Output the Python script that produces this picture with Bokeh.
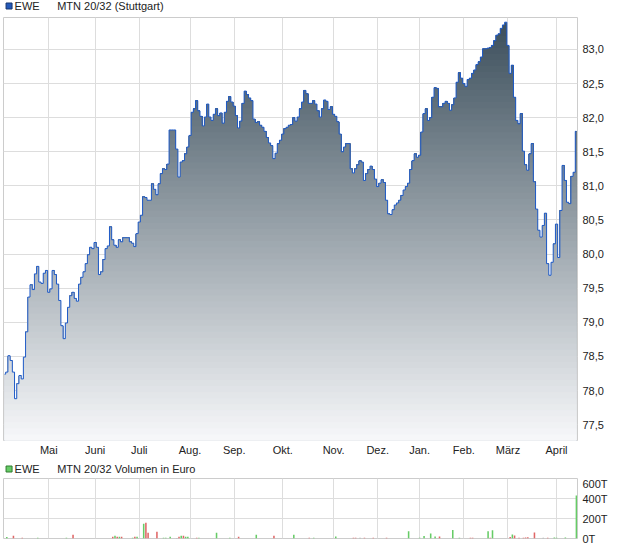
import numpy as np
from bokeh.plotting import figure
from bokeh.models import Range1d, FixedTicker
from bokeh.core.properties import value
from bokeh.layouts import column
from bokeh.embed import file_html
from bokeh.resources import INLINE

# ---------------- data ----------------
price = [
    78.24, 78.27, 78.51, 78.44, 78.27, 77.88, 78.10, 78.22, 78.17, 78.49,
    78.86, 79.37, 79.55, 79.48, 79.71, 79.82, 79.59, 79.57, 79.72, 79.76,
    79.44, 79.49, 79.76, 79.70, 79.56, 79.32, 78.95, 78.76, 78.99, 79.22,
    79.39, 79.44, 79.35, 79.31, 79.56, 79.66, 79.74, 79.86, 79.99, 80.10,
    80.08, 80.17, 80.10, 79.70, 79.74, 79.92, 80.08, 80.12, 80.40, 80.21,
    80.13, 80.10, 80.21, 80.18, 80.24, 80.24, 80.24, 80.18, 80.16, 80.11,
    80.30, 80.47, 80.57, 80.84, 80.83, 80.79, 80.79, 81.03, 80.95, 80.87,
    81.03, 81.18, 81.25, 81.24, 81.32, 81.82, 81.82, 81.82, 81.54, 81.13,
    81.35, 81.37, 81.47, 81.57, 81.74, 82.08, 82.13, 82.25, 82.10, 82.02,
    81.88, 82.01, 82.20, 82.01, 81.96, 82.05, 82.13, 82.03, 82.07, 81.92,
    82.08, 82.24, 82.31, 82.23, 82.17, 82.03, 81.85, 81.95, 82.21, 82.39,
    82.34, 82.29, 82.25, 81.98, 81.93, 81.94, 81.89, 81.86, 81.80, 81.71,
    81.63, 81.59, 81.40, 81.48, 81.62, 81.67, 81.76, 81.84, 81.86, 81.89,
    81.90, 82.00, 81.95, 82.01, 82.13, 82.23, 82.40, 82.35, 82.21, 82.21,
    82.25, 82.20, 82.10, 82.01, 82.13, 82.26, 82.24, 82.12, 82.16, 82.05,
    82.02, 81.94, 81.76, 81.50, 81.57, 81.62, 81.62, 81.25, 81.19, 81.25,
    81.31, 81.37, 81.35, 81.08, 81.18, 81.24, 81.29, 81.24, 81.10, 80.99,
    81.04, 81.09, 81.05, 80.79, 80.59, 80.58, 80.65, 80.72, 80.75, 80.79,
    80.86, 80.94, 80.99, 81.04, 81.24, 81.37, 81.47, 81.42, 81.45, 81.79,
    82.06, 82.13, 81.96, 82.00, 82.30, 82.44, 82.43, 82.16, 82.16, 82.21,
    82.24, 82.21, 82.11, 82.19, 82.29, 82.52, 82.66, 82.58, 82.50, 82.46,
    82.56, 82.58, 82.65, 82.70, 82.78, 82.82, 82.89, 83.01, 83.01, 83.02,
    83.03, 83.06, 83.13, 83.21, 83.23, 83.31, 83.36, 83.40, 83.06, 82.65,
    82.77, 82.30, 81.96, 81.91, 82.06, 81.51, 81.31, 81.23, 81.47, 81.62,
    81.06, 80.66, 80.35, 80.25, 80.42, 80.60, 79.86, 79.69, 79.88, 80.15,
    80.44, 79.95, 80.64, 81.30, 81.08, 80.76, 80.74, 81.14, 81.20, 81.80,
]

month_labels = ["Mai", "Juni", "Juli", "Aug.", "Sep.", "Okt.", "Nov.",
                "Dez.", "Jan.", "Feb.", "März", "April"]
month_start = [20, 41, 61, 84, 104, 126, 149, 169, 188, 208, 228, 250]

y_ticks = [77.5, 78.0, 78.5, 79.0, 79.5, 80.0, 80.5, 81.0, 81.5, 82.0, 82.5, 83.0]
y_tick_labels = ["77,5", "78,0", "78,5", "79,0", "79,5", "80,0", "80,5",
                 "81,0", "81,5", "82,0", "82,5", "83,0"]

# volume in thousand euro (T)
vol_up_days = [1, 15, 28, 50, 52, 58, 60, 63, 72, 73, 75, 80, 82, 83, 88, 96, 102,
               114, 131, 140, 150, 183, 188, 190, 193, 195, 203, 206, 219, 221,
               230, 249, 250, 254, 259]
vol_up = [15, 8, 8, 27, 17, 8, 17, 147, 8, 8, 17, 27, 17, 17, 8, 57, 8,
          37, 37, 8, 20, 72, 8, 24, 51, 20, 85, 8, 72, 82,
          41, 10, 8, 10, 430]
vol_down_days = [4, 8, 31, 49, 51, 53, 59, 64, 65, 69, 79, 81, 87, 106, 122, 138,
                 158, 159, 163, 167, 173, 197, 211, 212, 220, 229, 231, 233, 235,
                 236, 237, 240, 246]
vol_down = [27, 8, 37, 17, 17, 17, 17, 157, 57, 67, 17, 27, 8, 17, 27, 8,
            8, 8, 8, 8, 8, 20, 8, 8, 8, 14, 31, 8, 8,
            10, 12, 61, 8]
vol_flat_days = [78, 161, 244]
vol_flat = [6, 8, 8]

vol_ticks = [0, 200, 400, 600]
vol_tick_labels = ["0T", "200T", "400T", "600T"]

series_name = "EWE"
price_title = "MTN 20/32 (Stuttgart)"
volume_title = "MTN 20/32 Volumen in Euro"

# ---------------- styling ----------------
FONT = "Liberation Sans"
TXT = "#222222"
GRID = "#dddddd"
OUTLINE = "#cccccc"
Y_START, Y_END = 77.267, 83.469
W = 620


def header(height, text_y, swatch_fill, swatch_line, title):
    h = figure(width=W, height=height, x_range=Range1d(0, W), y_range=Range1d(0, height),
               output_backend="svg", toolbar_location=None,
               x_axis_location=None, y_axis_location=None,
               min_border=0, outline_line_color=None,
               background_fill_color="white", border_fill_color="white")
    h.xgrid.visible = False
    h.ygrid.visible = False
    h.scatter(x=[6], y=[text_y], marker="square", size=6,
              fill_color=swatch_fill, line_color=swatch_line, line_width=1)
    h.text(x=[12, 58], y=[text_y, text_y], text=[series_name, title],
           text_font=value(FONT), text_font_size="11px", text_color=TXT,
           text_baseline="middle", text_align="left")
    return h


def style_axis(ax, standoff):
    ax.axis_line_color = None
    ax.major_tick_line_color = None
    ax.minor_tick_line_color = None
    ax.major_tick_out = 0
    ax.major_tick_in = 0
    ax.minor_tick_out = 0
    ax.minor_tick_in = 0
    ax.major_label_text_font = FONT
    ax.major_label_text_font_size = "11px"
    ax.major_label_text_color = TXT
    ax.major_label_standoff = standoff


head1 = header(16, 10.5, "#2358b8", "#17366e", price_title)

N = len(price)
x = np.arange(N)
y = np.array(price)

p = figure(frame_width=574, frame_height=423,
           x_range=Range1d(-0.5, N - 0.5), y_range=Range1d(Y_START, Y_END),
           output_backend="svg", toolbar_location=None,
           y_axis_location="right",
           min_border_left=3, min_border_top=1, min_border_right=W - 3 - 574,
           min_border_bottom=17,
           background_fill_color="white", border_fill_color="white",
           outline_line_color=OUTLINE)

# gradient area (layered bands, drawn from top colour downwards)
top_rgb = np.array([58, 77, 90])
bot_rgb = np.array([247, 248, 250])
nb = 70
edges = np.linspace(Y_START, Y_END, nb + 1)
for k in range(nb, 0, -1):
    t = ((edges[k] + edges[k - 1]) / 2 - Y_START) / (Y_END - Y_START)
    c = bot_rgb + (top_rgb - bot_rgb) * t
    col = "#%02x%02x%02x" % tuple(int(round(v)) for v in c)
    p.varea_step(x=x, y1=np.full(N, Y_START), y2=np.minimum(y, edges[k]),
                 step_mode="center", fill_color=col)

p.step(x, y, mode="center", line_color="#1f5bc8", line_width=1)

p.xaxis.ticker = FixedTicker(ticks=month_start)
p.xgrid.ticker = FixedTicker(ticks=month_start)
p.xaxis.major_label_overrides = {m: l for m, l in zip(month_start, month_labels)}
p.yaxis.ticker = FixedTicker(ticks=y_ticks)
p.ygrid.ticker = FixedTicker(ticks=y_ticks)
p.yaxis.major_label_overrides = {t: l for t, l in zip(y_ticks, y_tick_labels)}
style_axis(p.xaxis, 3)
style_axis(p.yaxis, 5)
p.xgrid.grid_line_color = GRID
p.ygrid.grid_line_color = GRID

head2 = header(19, 8.5, "#66cc66", "#2f7a2f", volume_title)

# ---------------- volume ----------------
v = figure(frame_width=574, frame_height=60,
           x_range=p.x_range, y_range=Range1d(0, 600),
           output_backend="svg", toolbar_location=None,
           x_axis_location=None, y_axis_location="right",
           min_border_left=3, min_border_top=1, min_border_right=W - 3 - 574,
           min_border_bottom=7,
           background_fill_color="white", border_fill_color="white",
           outline_line_color=OUTLINE)
v.xgrid.ticker = FixedTicker(ticks=month_start)
v.xgrid.grid_line_color = GRID
v.yaxis.ticker = FixedTicker(ticks=vol_ticks)
v.ygrid.ticker = FixedTicker(ticks=vol_ticks)
v.ygrid.grid_line_color = GRID
v.yaxis.major_label_overrides = {t: l for t, l in zip(vol_ticks, vol_tick_labels)}
style_axis(v.yaxis, 5)

v.vbar(x=vol_up_days, top=vol_up, width=0.7, fill_color="#66cc66", line_color=None)
v.vbar(x=vol_down_days, top=vol_down, width=0.7, fill_color="#e06666", line_color=None)
v.vbar(x=vol_flat_days, top=vol_flat, width=0.7, fill_color="#aaaaaa", line_color=None)

layout = column(head1, p, head2, v, spacing=0)
open("out.html", "w").write(file_html(layout, INLINE))
